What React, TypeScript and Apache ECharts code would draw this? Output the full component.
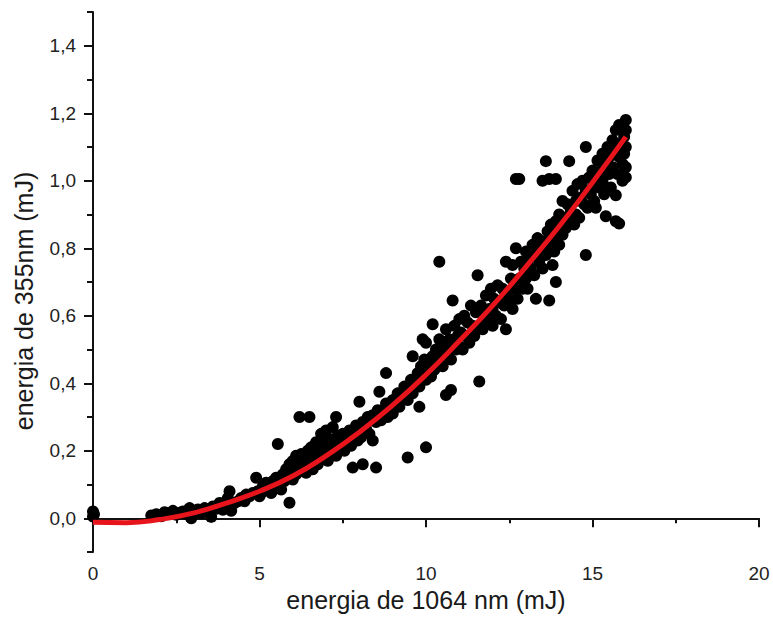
import React, { useEffect, useRef } from "react";
import * as echarts from "echarts";

const xTickLabels = [0, 5, 10, 15, 20];
const yMajorTicks = [0, 0.2, 0.4, 0.6, 0.8, 1.0, 1.2, 1.4];
const yMinorTicks = [-0.1, 0.1, 0.3, 0.5, 0.7, 0.9, 1.1, 1.3, 1.5];

const fitX = [0, 1, 2, 3, 4, 5, 6, 7, 8, 9, 10, 11, 12, 13, 14, 15, 16];
const fitY = [-0.012, -0.013, -0.004, 0.015, 0.045, 0.08, 0.125, 0.185, 0.255, 0.335, 0.425, 0.525, 0.63, 0.745, 0.865, 0.995, 1.13];

const pointsLow = [
  [0, 0.02], [0, 0.005], [0.03, 0.012],
  [1.75, 0.008], [1.9, 0.012], [2.05, 0.006], [2.15, 0.018], [2.3, 0.014], [2.4, 0.022], [2.5, 0.01], [2.6, 0.016], [2.7, 0.02], [2.8, 0.012], [2.9, 0.03], [2.95, 0.0], [3.05, 0.018], [3.15, 0.026], [3.25, 0.015], [3.35, 0.03], [3.45, 0.02], [3.55, 0.004], [3.6, 0.035], [3.7, 0.028], [3.8, 0.045], [3.9, 0.025], [4.0, 0.05], [4.05, 0.06], [4.1, 0.08], [4.15, 0.022], [4.25, 0.045], [4.35, 0.05], [4.45, 0.06], [4.55, 0.05], [4.6, 0.07], [4.7, 0.065], [4.8, 0.075], [4.9, 0.12], [4.95, 0.08], [5.0, 0.065],
];
const pointsMid = [
  [5.05, 0.075], [5.1, 0.095], [5.15, 0.085], [5.2, 0.105], [5.3, 0.09], [5.35, 0.075], [5.4, 0.11], [5.45, 0.095], [5.5, 0.12], [5.55, 0.22], [5.6, 0.105], [5.65, 0.085], [5.7, 0.13], [5.75, 0.11], [5.8, 0.145], [5.85, 0.12], [5.9, 0.046], [5.9, 0.16], [5.95, 0.135], [6.0, 0.17], [6.0, 0.115], [6.05, 0.15], [6.1, 0.185], [6.1, 0.13], [6.15, 0.16], [6.2, 0.3], [6.2, 0.14], [6.25, 0.19], [6.3, 0.155], [6.35, 0.175], [6.4, 0.135], [6.45, 0.2], [6.5, 0.3], [6.5, 0.165], [6.55, 0.21], [6.6, 0.145], [6.65, 0.185], [6.7, 0.225], [6.75, 0.16], [6.8, 0.2], [6.85, 0.25], [6.9, 0.225], [6.95, 0.175], [7.0, 0.26], [7.0, 0.205],
  [7.05, 0.17], [7.1, 0.235], [7.15, 0.2], [7.2, 0.27], [7.25, 0.215], [7.3, 0.3], [7.3, 0.185], [7.35, 0.245], [7.4, 0.21], [7.45, 0.23], [7.5, 0.25], [7.55, 0.2], [7.6, 0.235], [7.7, 0.26], [7.75, 0.215], [7.8, 0.15], [7.8, 0.245], [7.9, 0.275], [7.95, 0.23], [8.0, 0.345], [8.0, 0.26], [8.05, 0.24], [8.1, 0.16], [8.1, 0.285], [8.2, 0.265], [8.25, 0.3], [8.3, 0.25], [8.4, 0.23], [8.4, 0.305], [8.5, 0.15], [8.5, 0.285], [8.55, 0.32], [8.6, 0.375], [8.65, 0.29], [8.7, 0.315], [8.8, 0.43], [8.8, 0.34], [8.85, 0.3], [8.9, 0.325], [9.0, 0.35], [9.0, 0.31], [9.1, 0.34], [9.15, 0.37], [9.2, 0.33], [9.3, 0.36], [9.35, 0.39], [9.45, 0.18], [9.45, 0.35], [9.5, 0.38], [9.55, 0.41], [9.6, 0.48], [9.6, 0.37], [9.7, 0.4], [9.75, 0.43], [9.8, 0.33], [9.8, 0.39], [9.85, 0.45], [9.9, 0.53], [9.9, 0.42], [9.95, 0.47], [10.0, 0.52], [10.0, 0.21], [10.0, 0.41],
];
const pointsHigh = [
  [10.05, 0.44], [10.1, 0.47], [10.15, 0.42], [10.2, 0.575], [10.2, 0.48], [10.25, 0.44], [10.3, 0.5], [10.35, 0.46], [10.4, 0.76], [10.4, 0.53], [10.45, 0.48], [10.5, 0.45], [10.55, 0.51], [10.6, 0.365], [10.6, 0.56], [10.65, 0.49], [10.7, 0.53], [10.75, 0.38], [10.75, 0.47], [10.8, 0.645], [10.8, 0.52], [10.85, 0.57], [10.9, 0.5], [10.95, 0.54], [11.0, 0.59], [11.0, 0.51], [11.05, 0.55], [11.1, 0.5], [11.15, 0.6], [11.2, 0.54], [11.25, 0.58], [11.3, 0.52], [11.35, 0.63], [11.4, 0.57], [11.45, 0.54], [11.5, 0.61], [11.55, 0.72], [11.6, 0.405], [11.6, 0.57],
  [11.65, 0.63], [11.7, 0.56], [11.75, 0.6], [11.8, 0.66], [11.85, 0.58], [11.9, 0.62], [11.95, 0.68], [12.0, 0.62], [12.0, 0.57], [12.05, 0.65], [12.1, 0.6], [12.15, 0.69], [12.2, 0.64], [12.25, 0.59], [12.3, 0.68], [12.35, 0.63], [12.4, 0.56], [12.4, 0.76], [12.45, 0.66], [12.5, 0.64], [12.55, 0.71], [12.6, 0.62], [12.6, 0.75], [12.65, 0.68], [12.7, 0.8], [12.7, 1.005], [12.75, 0.65], [12.8, 1.005], [12.8, 0.71], [12.85, 0.76], [12.9, 0.68], [12.95, 0.74], [13.0, 0.79], [13.0, 0.71],
  [13.05, 0.68], [13.1, 0.77], [13.15, 0.74], [13.2, 0.81], [13.25, 0.72], [13.3, 0.65], [13.3, 0.78], [13.35, 0.83], [13.4, 0.76], [13.45, 0.8], [13.5, 1.0], [13.5, 0.74], [13.55, 0.82], [13.6, 1.058], [13.6, 0.78], [13.65, 0.85], [13.7, 1.005], [13.7, 0.645], [13.7, 0.81], [13.75, 0.87], [13.8, 0.75], [13.8, 0.84], [13.85, 0.79], [13.9, 0.7], [13.9, 1.005], [13.9, 0.88], [13.95, 0.83], [14.0, 0.9], [14.0, 0.81], [14.05, 0.86], [14.1, 0.94], [14.1, 0.84], [14.15, 0.89], [14.2, 0.86], [14.25, 0.93], [14.3, 1.058], [14.3, 0.88], [14.35, 0.91], [14.4, 0.97], [14.45, 0.87], [14.5, 0.94], [14.5, 0.9], [14.55, 0.99], [14.6, 0.89], [14.65, 0.95], [14.7, 1.0], [14.75, 0.93], [14.8, 1.1], [14.8, 0.78], [14.8, 0.97], [14.85, 0.92], [14.9, 1.01], [14.95, 0.96], [15.0, 1.03], [15.0, 0.98], [15.05, 0.94], [15.1, 0.92], [15.1, 1.01], [15.15, 1.06], [15.2, 0.98], [15.25, 1.03], [15.3, 1.08], [15.3, 1.0], [15.35, 0.96], [15.4, 0.895], [15.4, 1.05], [15.45, 1.1], [15.5, 1.02], [15.5, 1.07], [15.55, 0.98], [15.6, 1.12], [15.6, 1.04], [15.65, 1.09], [15.7, 1.15], [15.7, 0.957], [15.7, 0.88], [15.75, 1.02], [15.8, 1.165], [15.8, 0.873], [15.8, 1.07], [15.85, 1.11], [15.9, 1.0], [15.9, 1.05], [15.95, 1.13], [16.0, 1.18], [16.0, 1.04], [16.0, 1.1], [16.0, 1.01], [15.95, 1.08], [16.0, 1.15],
];

const xName = "energia de 1064 nm (mJ)";
const yName = "energia de 355nm (mJ)";

const FONT = "'Liberation Sans', Arial, sans-serif";

export default function App() {
  const ref = useRef<HTMLDivElement>(null);
  useEffect(() => {
    if (!ref.current) return;
    const chart = echarts.init(ref.current, null, { renderer: "svg" });
    const scatterData = [...pointsLow, ...pointsMid, ...pointsHigh];
    const fitData = fitX.map((x, i) => [x, fitY[i]]);
    const fmt = (v: number) => (Math.abs(v) < 1e-9 ? 0 : v).toFixed(1).replace(".", ",");
    chart.setOption({
      animation: false,
      backgroundColor: "#ffffff",
      grid: { left: 93, top: 12, width: 666, height: 540, containLabel: false, outerBoundsMode: "none" },
      graphic: [
        {
          type: "text",
          x: 24,
          y: 301,
          rotation: Math.PI / 2,
          style: {
            text: yName,
            fontFamily: FONT,
            fontSize: 25,
            fill: "#1a1a1a",
            align: "center",
            verticalAlign: "middle",
          },
        },
      ],
      xAxis: {
        type: "value",
        min: 0,
        max: 20,
        interval: 5,
        name: xName,
        nameLocation: "middle",
        nameGap: 34,
        nameTextStyle: { fontFamily: FONT, fontSize: 25, color: "#1a1a1a" },
        axisLine: { lineStyle: { color: "#111", width: 2 } },
        axisTick: { show: true, length: 9, inside: false, lineStyle: { color: "#111", width: 2 } },
        minorTick: { show: true, splitNumber: 2, length: 5, lineStyle: { color: "#111", width: 2 } },
        axisLabel: {
          fontFamily: FONT,
          fontSize: 19,
          color: "#222",
          margin: 12,
          formatter: (v: number) => String(v),
          customValues: xTickLabels,
        },
        splitLine: { show: false },
        minorSplitLine: { show: false },
      },
      yAxis: [
        {
          type: "value",
          min: -0.1,
          max: 1.5,
          axisLine: { show: true, lineStyle: { color: "#111", width: 2 } },
          axisTick: { show: true, length: 9, inside: false, customValues: yMajorTicks, lineStyle: { color: "#111", width: 2 } },
          axisLabel: { fontFamily: FONT, fontSize: 19, color: "#222", margin: 17, customValues: yMajorTicks, formatter: fmt },
          splitLine: { show: false },
        },
        {
          type: "value",
          min: -0.1,
          max: 1.5,
          position: "left",
          offset: 0,
          axisLine: { show: false },
          axisTick: { show: true, length: 6, inside: false, customValues: yMinorTicks, lineStyle: { color: "#111", width: 2 } },
          axisLabel: { show: false },
          splitLine: { show: false },
        },
      ],
      series: [
        {
          type: "scatter",
          data: scatterData,
          symbol: "circle",
          symbolSize: 12,
          itemStyle: { color: "#000000", opacity: 1 },
          z: 2,
        },
        {
          type: "line",
          data: fitData,
          smooth: true,
          showSymbol: false,
          symbol: "none",
          lineStyle: { color: "#e8141c", width: 5 },
          z: 3,
        },
      ],
    });
    return () => chart.dispose();
  }, []);
  return <div ref={ref} style={{ position: "fixed", left: 0, top: 0, width: 773, height: 634 }} />;
}
